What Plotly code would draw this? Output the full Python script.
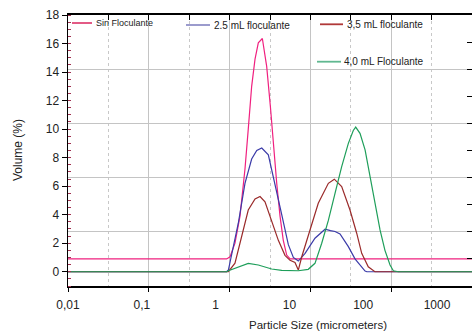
import plotly.graph_objects as go

# ---------------- data ----------------
size_sin = [0.01, 1.41, 1.57, 1.83, 2.14, 2.50, 2.77, 3.08, 3.42, 3.79, 4.30, 4.92,
            5.52, 6.05, 6.73, 7.46, 8.26, 9.19, 10.2, 3000]
vol_sin = [0.9, 0.9, 1.05, 2.0, 3.9, 7.2, 10.0, 13.0, 14.9, 16.05, 16.35, 14.4,
           11.6, 8.8, 6.2, 3.9, 2.2, 1.17, 0.9, 0.9]

size_25 = [0.01, 1.41, 1.49, 2.03, 2.50, 3.08, 3.61, 4.22, 5.18, 6.38, 7.87, 9.67,
           11.3, 13.2, 16.3, 22.2, 30.4, 36.0, 41.5, 48.5, 62.9, 77.4, 90.5, 106, 112, 3000]
vol_25 = [0, 0, 0.12, 3.4, 6.2, 7.9, 8.5, 8.67, 8.2, 6.0, 4.0, 1.9,
          1.0, 0.75, 1.29, 2.35, 2.98, 2.88, 2.82, 2.65, 1.76, 0.9, 0.45, 0.05, 0, 0]

size_35 = [0.01, 1.49, 1.83, 2.26, 2.77, 3.42, 4.0, 4.67, 5.75, 7.08, 8.71, 10.2,
           11.9, 13.2, 14.7, 19.0, 24.6, 33.7, 40.6, 51.1, 66.2, 81.6, 95.4, 117, 144, 3000]
vol_35 = [0, 0, 0.6, 2.46, 4.33, 5.1, 5.27, 4.9, 3.6, 2.2, 1.15, 0.8,
          0.65, 0.12, 1.05, 2.93, 4.8, 6.2, 6.49, 5.97, 4.33, 2.7, 1.29, 0.35, 0, 0]

size_40 = [0.01, 0.10, 0.103, 0.15, 0.155, 1.41, 1.49, 1.83, 2.26, 2.77, 3.79, 5.75,
           7.87, 13.2, 18.0, 22.2, 27.4, 33.7, 41.5, 51.1, 62.9, 73.4, 79.1, 90.5,
           106, 124, 144, 169, 197, 231, 256, 299, 3000]
vol_40 = [0, 0, 0.03, 0.03, 0, 0, 0.07, 0.24, 0.47, 0.59, 0.47, 0.19,
          0.1, 0.07, 0.17, 0.59, 2.0, 3.6, 5.5, 7.37, 9.0, 9.9, 10.14, 9.7,
          8.55, 6.67, 4.8, 2.93, 1.5, 0.47, 0.07, 0, 0]

x_tickvals = [0.01, 0.1, 1, 10, 100, 1000]
x_ticktext = ["0,01", "0,1", "1", "10", "100", "1000"]

series_names = ["Sin Floculante", "2.5 mL floculante", "3,5 mL floculante", "4,0 mL Floculante"]

# ---------------- styling / layout ----------------
W, H = 472, 333
L, R, T, B = 68, 472, 15, 286
FONT = "Liberation Sans"
TXT = "#222222"

def px_x(x):
    return (x - L) / (R - L)

def px_y(y):
    return (B - y) / (B - T)

colors = ["#f0207f", "#3a3aa8", "#9a2a2a", "#1e9e5a"]
key_colors = ["#e04878", "#9090c8", "#b03838", "#60b890"]

fig = go.Figure()
for sx, sy, name, col in zip([size_sin, size_25, size_35, size_40],
                             [vol_sin, vol_25, vol_35, vol_40],
                             series_names, colors):
    fig.add_trace(go.Scatter(x=sx, y=sy, mode="lines", name=name,
                             line=dict(color=col, width=1.2),
                             showlegend=False))

# empty helper traces so the overlay axes (grid / frame ticks) exist
fig.add_trace(go.Scatter(x=[None], y=[None], xaxis="x2", yaxis="y2",
                         showlegend=False, hoverinfo="skip"))
fig.add_trace(go.Scatter(x=[None], y=[None], xaxis="x3", yaxis="y2",
                         showlegend=False, hoverinfo="skip"))

fig.update_layout(
    width=W, height=H,
    margin=dict(l=L, r=W - R, t=T, b=H - B, autoexpand=False),
    paper_bgcolor="white", plot_bgcolor="white",
    font=dict(family=FONT, color=TXT, size=12),
    hovermode=False,
    xaxis=dict(type="log", range=[-2, 3.474], showgrid=False, zeroline=False,
               tickmode="array", tickvals=x_tickvals, ticktext=x_ticktext,
               ticks="", ticklabelstandoff=7, automargin=False,
               tickfont=dict(size=12, family=FONT, color=TXT),
               showline=True, linecolor="black", linewidth=2),
    yaxis=dict(range=[-1, 18], showgrid=False, zeroline=False, automargin=False,
               tickmode="linear", tick0=0, dtick=2,
               ticks="outside", ticklen=5, tickcolor="black", tickwidth=1,
               tickfont=dict(size=12, family=FONT, color=TXT),
               minor=dict(ticks="inside", dtick=0.5, tick0=0, ticklen=3,
                          tickcolor="#a03050", tickwidth=1, showgrid=False),
               showline=True, linecolor="black", linewidth=1.5),
    xaxis2=dict(overlaying="x", anchor="y", side="top", range=[0, 10], automargin=False,
                tickmode="linear", tick0=0, dtick=2, showticklabels=False,
                showgrid=True, gridcolor="#c4c4c4", gridwidth=1,
                ticks="inside", ticklen=5, tickcolor="black",
                minor=dict(dtick=1, tick0=0, ticks="inside", ticklen=5,
                           tickcolor="black", showgrid=True,
                           gridcolor="#c8c8c8", griddash="dot", gridwidth=1),
                zeroline=False, showline=True, linecolor="black", linewidth=2),
    xaxis3=dict(overlaying="x", anchor="y", side="bottom", range=[0, 10], automargin=False,
                tickmode="linear", tick0=0, dtick=2, showticklabels=False,
                showgrid=False, zeroline=False,
                ticks="outside", ticklen=5, tickcolor="black", tickwidth=1,
                showline=False),
    yaxis2=dict(overlaying="y", anchor="x", side="right", range=[0, 10], automargin=False,
                tickmode="linear", tick0=0, dtick=2, showticklabels=False,
                showgrid=True, gridcolor="#c4c4c4", gridwidth=1,
                ticks="inside", ticklen=5, tickcolor="black",
                minor=dict(dtick=1, tick0=0, ticks="inside", ticklen=5,
                           tickcolor="black", showgrid=False),
                zeroline=False, showline=False),
)

# axis titles
fig.add_annotation(text="Volume (%)", x=px_x(18), y=px_y(150), xref="paper", yref="paper",
                   textangle=-90, showarrow=False, xanchor="center", yanchor="middle",
                   font=dict(size=12, family=FONT, color=TXT))
fig.add_annotation(text="Particle Size (micrometers)", x=px_x(318), y=px_y(325),
                   xref="paper", yref="paper", showarrow=False,
                   xanchor="center", yanchor="middle",
                   font=dict(size=11.5, family=FONT, color=TXT))

# in-plot legend
legend_items = [
    # (line x0, line x1, y, text x, font size)
    (72, 92, 23, 94, 9),
    (186, 210, 25, 212, 10),
    (320, 343, 24.3, 345, 10),
    (317, 341, 61.7, 342, 10),
]
for (x0, x1, yy, tx, fs), name, kc in zip(legend_items, series_names, key_colors):
    fig.add_shape(type="line", xref="paper", yref="paper",
                  x0=px_x(x0), x1=px_x(x1), y0=px_y(yy), y1=px_y(yy),
                  line=dict(color=kc, width=1.8))
    fig.add_annotation(text=name, x=px_x(tx), y=px_y(yy), xref="paper", yref="paper",
                       showarrow=False, xanchor="left", yanchor="middle",
                       font=dict(size=fs, family=FONT, color=TXT))

fig.write_html("out.html",
               config={"displayModeBar": False, "staticPlot": True},
               post_script="document.body.style.margin='0';document.body.style.overflow='hidden';")
